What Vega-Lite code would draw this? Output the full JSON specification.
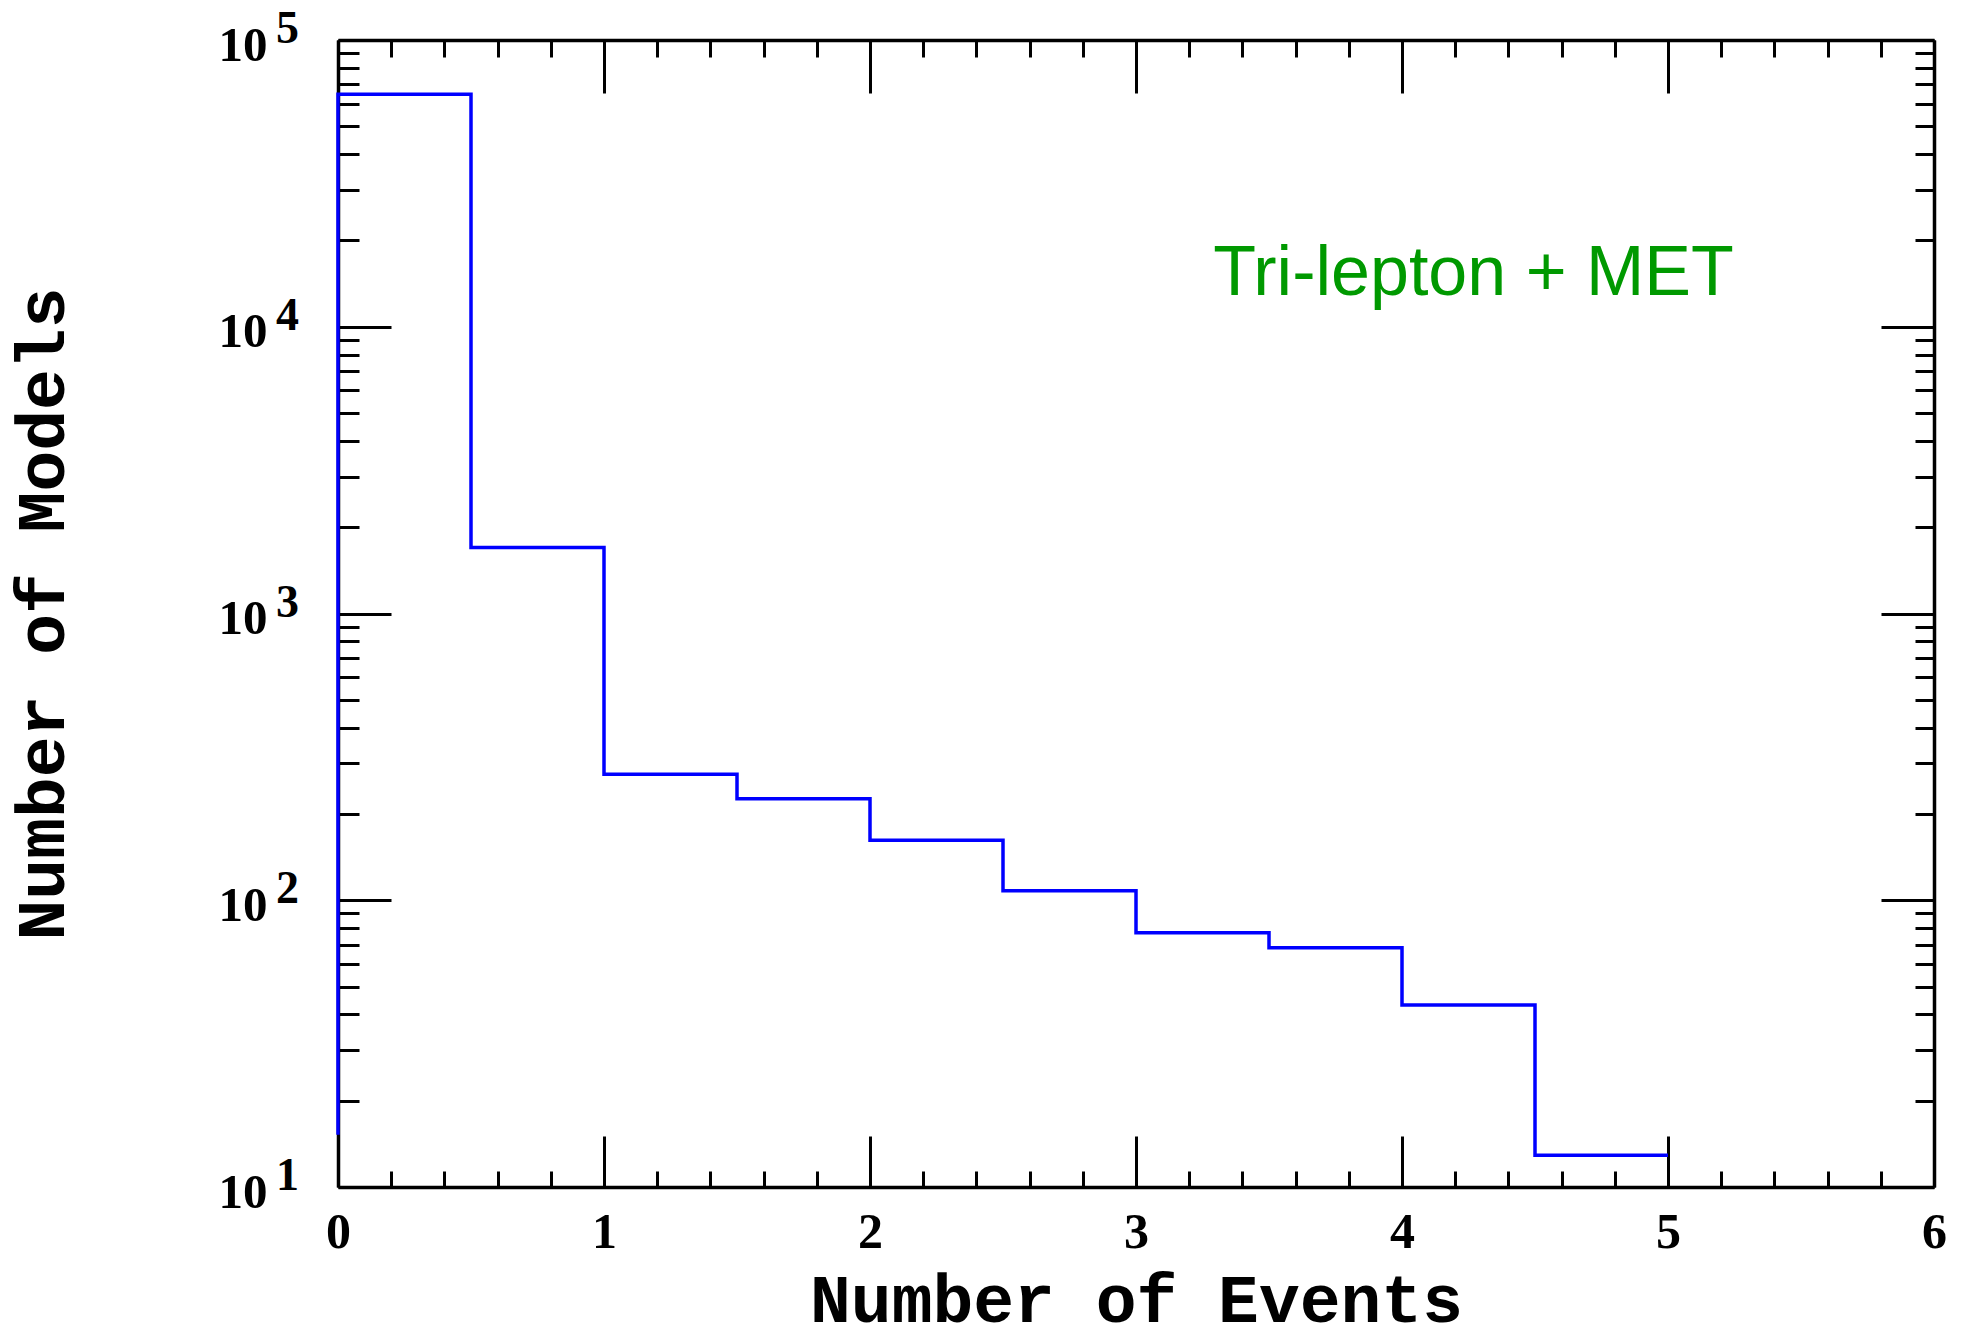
{
  "$schema": "https://vega.github.io/schema/vega-lite/v6.json",
  "autosize": "none",
  "width": 1596,
  "height": 1147,
  "padding": {"left": 338, "top": 40, "right": 37, "bottom": 156},
  "background": "white",
  "config": {
    "view": {"stroke": null},
    "axis": {
      "grid": false,
      "domainColor": "black",
      "domainWidth": 3.5,
      "tickColor": "black",
      "tickWidth": 3,
      "labelColor": "black",
      "titleColor": "black"
    }
  },
  "datasets": {
    "hist": [
      {"x": 0, "y": 15.2, "i": 0},
      {"x": 0, "y": 64700, "i": 1},
      {"x": 0.5, "y": 1700, "i": 2},
      {"x": 1, "y": 275, "i": 3},
      {"x": 1.5, "y": 226, "i": 4},
      {"x": 2, "y": 162, "i": 5},
      {"x": 2.5, "y": 108, "i": 6},
      {"x": 3, "y": 77, "i": 7},
      {"x": 3.5, "y": 68.3, "i": 8},
      {"x": 4, "y": 43.1, "i": 9},
      {"x": 4.5, "y": 12.9, "i": 10},
      {"x": 5, "y": 12.9, "i": 11}
    ],
    "note": [{"x": 3.29, "y": 12900, "text": "Tri-lepton + MET"}],
    "exps": [
      {"v": 10, "e": "1"},
      {"v": 100, "e": "2"},
      {"v": 1000, "e": "3"},
      {"v": 10000, "e": "4"},
      {"v": 100000, "e": "5"}
    ]
  },
  "resolve": {"axis": {"x": "independent", "y": "independent"}},
  "layer": [
    {
      "data": {"name": "hist"},
      "mark": {"type": "line", "interpolate": "step-after", "color": "#0000FF", "strokeWidth": 3.5},
      "encoding": {
        "order": {"field": "i"},
        "x": {
          "field": "x", "type": "quantitative",
          "scale": {"domain": [0, 6], "nice": false, "zero": false},
          "axis": {
            "orient": "bottom",
            "values": [0,0.2,0.4,0.6,0.8,1,1.2,1.4,1.6,1.8,2,2.2,2.4,2.6,2.8,3,3.2,3.4,3.6,3.8,4,4.2,4.4,4.6,4.8,5,5.2,5.4,5.6,5.8,6],
            "tickSize": {"condition": {"test": "datum.value % 1 === 0", "value": -51}, "value": -16},
            "labelExpr": "datum.value % 1 === 0 ? '' + datum.value : ''",
            "labelOverlap": false,
            "labelFlush": false,
            "labelFont": "Liberation Serif",
            "labelFontWeight": "bold",
            "labelFontSize": 50,
            "labelBaseline": "alphabetic",
            "labelPadding": 111,
            "title": "Number of Events",
            "titleFont": "Liberation Mono",
            "titleFontWeight": "bold",
            "titleFontSize": 68,
            "titleBaseline": "alphabetic",
            "titleY": 134
          }
        },
        "y": {
          "field": "y", "type": "quantitative",
          "scale": {"type": "log", "domain": [10, 100000], "nice": false, "zero": false},
          "axis": {
            "orient": "left",
            "values": [10,20,30,40,50,60,70,80,90,100,200,300,400,500,600,700,800,900,1000,2000,3000,4000,5000,6000,7000,8000,9000,10000,20000,30000,40000,50000,60000,70000,80000,90000,100000],
            "tickSize": {"condition": {"test": "indexof([10,100,1000,10000,100000], datum.value) >= 0", "value": -53}, "value": -21},
            "labelExpr": "indexof([10,100,1000,10000,100000], datum.value) >= 0 ? '10' : ''",
            "labelOverlap": false,
            "labelFlush": false,
            "labelFont": "Liberation Serif",
            "labelFontWeight": "bold",
            "labelFontSize": 49,
            "labelAlign": "right",
            "labelBaseline": "alphabetic",
            "labelOffset": 20,
            "labelPadding": 124,
            "title": "Number of Models",
            "titleFont": "Liberation Mono",
            "titleFontWeight": "bold",
            "titleFontSize": 68,
            "titleAngle": -90,
            "titleBaseline": "alphabetic",
            "titleX": -275
          }
        }
      }
    },
    {
      "data": {"name": "note"},
      "mark": {"type": "text", "align": "left", "baseline": "alphabetic", "font": "Liberation Sans", "fontSize": 70, "color": "#009900"},
      "encoding": {
        "text": {"field": "text"},
        "x": {
          "field": "x", "type": "quantitative",
          "axis": {
            "orient": "top",
            "values": [0,0.2,0.4,0.6,0.8,1,1.2,1.4,1.6,1.8,2,2.2,2.4,2.6,2.8,3,3.2,3.4,3.6,3.8,4,4.2,4.4,4.6,4.8,5,5.2,5.4,5.6,5.8,6],
            "tickSize": {"condition": {"test": "datum.value % 1 === 0", "value": -53}, "value": -17},
            "labels": false,
            "title": null
          }
        },
        "y": {
          "field": "y", "type": "quantitative",
          "axis": {
            "orient": "right",
            "values": [10,20,30,40,50,60,70,80,90,100,200,300,400,500,600,700,800,900,1000,2000,3000,4000,5000,6000,7000,8000,9000,10000,20000,30000,40000,50000,60000,70000,80000,90000,100000],
            "tickSize": {"condition": {"test": "indexof([10,100,1000,10000,100000], datum.value) >= 0", "value": -53}, "value": -19},
            "labels": false,
            "title": null
          }
        }
      }
    },
    {
      "data": {"name": "exps"},
      "mark": {"type": "text", "align": "left", "baseline": "alphabetic", "font": "Liberation Serif", "fontWeight": "bold", "fontSize": 46, "color": "black", "dx": -62, "dy": 3, "clip": false},
      "encoding": {
        "text": {"field": "e"},
        "x": {"datum": 0, "type": "quantitative", "axis": null},
        "y": {"field": "v", "type": "quantitative", "axis": null}
      }
    }
  ]
}
